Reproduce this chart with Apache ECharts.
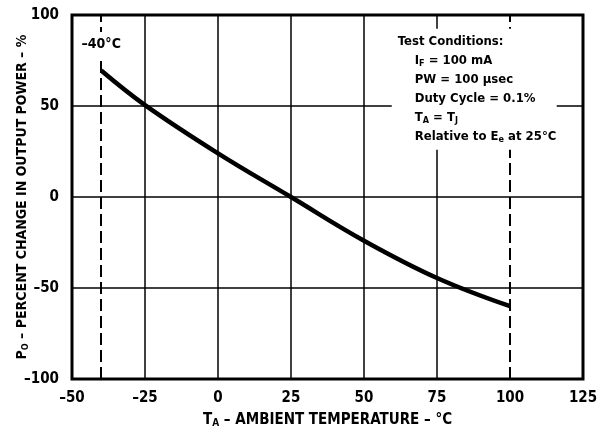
<!DOCTYPE html>
<html><head><meta charset="utf-8">
<script src="https://cdn.jsdelivr.net/npm/echarts@6/dist/echarts.min.js"></script>
<style>html,body{margin:0;padding:0;background:#fff}#c{width:607px;height:432px}</style>
</head><body><div id="c"></div>
<script>
// ---- data ----
const tempC = [-40, -25, 0, 25, 50, 75, 100];
const powerChange = [69.5, 50.5, 24, 0, -24, -44.5, -60];
const xTicks = [-50, -25, 0, 25, 50, 75, 100, 125];
const yTicks = [-100, -50, 0, 50, 100];
const gridX = [-25, 0, 25, 50, 75];
const limitX = [-40, 100];
const limitLabel = '\u201340\u00b0C';
const conditionTitle = 'Test Conditions:';
const conditionLines = ['I{s|F} = 100 mA', 'PW = 100 \u00b5sec', 'Duty Cycle = 0.1%', 'T{s|A} = T{s|J}', 'Relative to E{s|e} at 25\u00b0C'];
const xName = 'T{s|A} \u2013 AMBIENT TEMPERATURE \u2013 \u00b0C';
const yName = 'P{s|O} \u2013 PERCENT CHANGE IN OUTPUT POWER \u2013 %';

const FONT = "'DejaVu Sans Condensed', 'Liberation Sans Narrow', 'Arial Narrow', sans-serif";
const subRich = { s: { fontSize: 9, fontFamily: FONT, fontWeight: 'bold', color: '#000', padding: [6, 0, 0, 0] } };
const subRichBig = { s: { fontSize: 10, fontFamily: FONT, fontWeight: 'bold', color: '#000', padding: [6, 0, 0, 0] } };
const fmt = v => (v < 0 ? '\u2013' + Math.abs(v) : String(v));

const chart = echarts.init(document.getElementById('c'), null, { renderer: 'canvas' });
const points = tempC.map((t, i) => [t, powerChange[i]]);

chart.setOption({
  animation: false,
  backgroundColor: '#fff',
  grid: { left: 72, right: 24, top: 15, bottom: 53, containLabel: false, outerBoundsMode: 'none',
          show: true, borderColor: '#000', borderWidth: 3, backgroundColor: 'transparent', z: 5 },
  xAxis: {
    type: 'value', min: xTicks[0], max: xTicks[xTicks.length - 1], interval: 25,
    axisLine: { show: false }, axisTick: { show: false }, splitLine: { show: false },
    axisLabel: { margin: 12, color: '#000', fontFamily: FONT, fontWeight: 'bold', fontSize: 15, formatter: fmt },
    name: xName, nameLocation: 'middle', nameGap: 33, nameMoveOverlap: false,
    nameTextStyle: { color: '#000', fontFamily: FONT, fontWeight: 'bold', fontSize: 15, rich: subRichBig }
  },
  yAxis: {
    type: 'value', min: yTicks[0], max: yTicks[yTicks.length - 1], interval: 50,
    axisLine: { show: false }, axisTick: { show: false },
    splitLine: { show: true, lineStyle: { color: '#000', width: 1.5 } },
    axisLabel: { margin: 13, color: '#000', fontFamily: FONT, fontWeight: 'bold', fontSize: 15, formatter: fmt },
    name: yName, nameLocation: 'middle', nameGap: 42, nameRotate: 90, nameMoveOverlap: false,
    nameTextStyle: { color: '#000', fontFamily: FONT, fontWeight: 'bold', fontSize: 14, rich: subRich }
  },
  series: [{
    type: 'line', data: points, smooth: 0.4, symbol: 'none', z: 4,
    lineStyle: { color: '#000', width: 4.5, cap: 'butt' },
    markLine: {
      silent: true, symbol: 'none', label: { show: false }, animation: false,
      lineStyle: { color: '#000', width: 1.5, type: 'solid' },
      data: gridX.map(v => ({ xAxis: v }))
        .concat(limitX.map(v => ({ xAxis: v, lineStyle: { color: '#000', width: 2, type: [12, 5] } })))
    }
  }]
});

// annotations anchored through the axes
const p40 = chart.convertToPixel({ gridIndex: 0 }, [limitX[0], 84]);
const boxTL = chart.convertToPixel({ gridIndex: 0 }, [59.5, 92.5]);
const boxBR = chart.convertToPixel({ gridIndex: 0 }, [116, 26]);
const txtStyle = { fill: '#000', fontFamily: FONT, fontWeight: 'bold', fontSize: 13, rich: subRich };
const graphics = [
  { type: 'text', x: p40[0], y: p40[1], z: 20,
    style: Object.assign({}, txtStyle, { text: limitLabel, fontSize: 14, align: 'center', verticalAlign: 'middle', backgroundColor: '#fff', padding: [5, 0, 5, 0] }) },
  { type: 'rect', z: 20, shape: { x: boxTL[0], y: boxTL[1], width: boxBR[0] - boxTL[0], height: boxBR[1] - boxTL[1] }, style: { fill: '#fff' } },
  { type: 'text', x: boxTL[0] + 6, y: boxTL[1] + 13, z: 21,
    style: Object.assign({}, txtStyle, { text: conditionTitle, align: 'left', verticalAlign: 'middle' }) }
];
conditionLines.forEach((t, i) => {
  graphics.push({ type: 'text', x: boxTL[0] + 23, y: boxTL[1] + 32 + i * 19, z: 21,
    style: Object.assign({}, txtStyle, { text: t, align: 'left', verticalAlign: 'middle' }) });
});
chart.setOption({ graphic: graphics });
</script>
</body></html>
